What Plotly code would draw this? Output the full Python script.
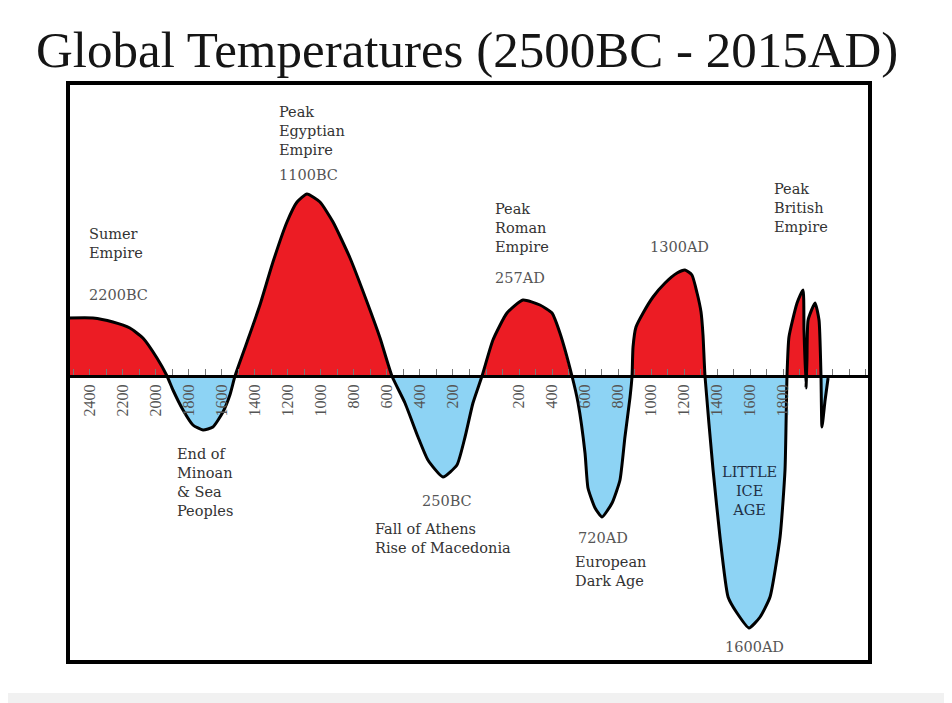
import numpy as np
import plotly.graph_objects as go

# curve: year (negative = BC) and relative temperature
years = [-2533, -2382, -2261, -2158, -2079, -1994, -1933,
         -1897, -1836, -1776, -1715, -1655, -1594, -1552, -1521,
         -1448, -1370, -1291, -1206, -1145, -1085, -1006, -927, -824, -721, -642, -570,
         -491, -412, -352, -261, -176, -127, -79, -24,
         42, 127, 224, 327, 400, 448, 521,
         558, 600, 618, 661, 703, 764, 812, 842, 873, 885,
         891, 909, 952, 1012, 1085, 1158, 1206, 1248, 1279, 1303, 1315, 1327,
         1376, 1418, 1467, 1521, 1594, 1661, 1721, 1782, 1812, 1824,
         1836, 1885, 1921, 1927, 1939, 1945, 1952, 1994, 2018, 2030, 2036, 2055, 2073]
temps = [0.58, 0.58, 0.54, 0.48, 0.38, 0.18, 0.0,
         -0.14, -0.34, -0.49, -0.54, -0.51, -0.36, -0.19, 0.0,
         0.34, 0.71, 1.14, 1.54, 1.74, 1.82, 1.74, 1.54, 1.18, 0.74, 0.38, 0.0,
         -0.27, -0.61, -0.84, -1.01, -0.89, -0.61, -0.27, 0.0,
         0.36, 0.63, 0.76, 0.71, 0.63, 0.43, 0.0,
         -0.27, -0.77, -1.12, -1.32, -1.41, -1.27, -1.04, -0.61, -0.21, 0.0,
         0.29, 0.49, 0.63, 0.79, 0.93, 1.03, 1.06, 1.01, 0.83, 0.64, 0.41, 0.0,
         -0.94, -1.61, -2.21, -2.37, -2.52, -2.41, -2.21, -1.61, -0.94, 0.0,
         0.39, 0.73, 0.86, 0.46, -0.12, 0.16, 0.56, 0.73, 0.56, 0.0, -0.51, -0.24, -0.02]

tick_vals = [-2400, -2200, -2000, -1800, -1600, -1400, -1200, -1000, -800, -600, -400, -200,
             200, 400, 600, 800, 1000, 1200, 1400, 1600, 1800]
tick_text = ["2400", "2200", "2000", "1800", "1600", "1400", "1200", "1000", "800", "600", "400", "200",
             "200", "400", "600", "800", "1000", "1200", "1400", "1600", "1800"]

# (text, year, temp, xanchor, kind)
labels = [
    ("Sumer<br>Empire", -2418, 1.33, "left", "event"),
    ("2200BC", -2418, 0.81, "left", "date"),
    ("Peak<br>Egyptian<br>Empire", -1267, 2.45, "left", "event"),
    ("1100BC", -1267, 2.01, "left", "date"),
    ("Peak<br>Roman<br>Empire", 42, 1.48, "left", "event"),
    ("257AD", 42, 0.98, "left", "date"),
    ("1300AD", 982, 1.29, "left", "date"),
    ("Peak<br>British<br>Empire", 1733, 1.68, "left", "event"),
    ("End of<br>Minoan<br>& Sea<br>Peoples", -1885, -1.065, "left", "event"),
    ("250BC", -400, -1.25, "left", "date"),
    ("Fall of Athens<br>Rise of Macedonia", -685, -1.62, "left", "event"),
    ("720AD", 545, -1.62, "left", "date"),
    ("European<br>Dark Age", 527, -1.955, "left", "event"),
    ("1600AD", 1630, -2.71, "center", "date"),
]

RED = "#ec1c24"
BLUE = "#8dd3f4"
x_range = [-2533, 2327]
y_range = [-2.86, 2.93]
SMOOTH = 0.5

t = np.array(temps)
fig = go.Figure()
fig.add_trace(go.Scatter(x=years, y=np.maximum(t, 0), mode="lines", fill="tozeroy",
                         fillcolor=RED, line=dict(width=0, shape="spline", smoothing=SMOOTH),
                         hoverinfo="skip", showlegend=False))
fig.add_trace(go.Scatter(x=years, y=np.minimum(t, 0), mode="lines", fill="tozeroy",
                         fillcolor=BLUE, line=dict(width=0, shape="spline", smoothing=SMOOTH),
                         hoverinfo="skip", showlegend=False))
fig.add_trace(go.Scatter(x=years, y=temps, mode="lines", name="Temperature",
                         line=dict(color="black", width=3, shape="spline", smoothing=SMOOTH),
                         showlegend=False))

for text, xv, yv, anchor, kind in labels:
    if kind == "event":
        font = dict(family="DejaVu Serif", size=14.5, color="#333333")
    else:
        font = dict(family="DejaVu Serif", size=14.5, color="#555555")
    fig.add_annotation(x=xv, y=yv, text=text, showarrow=False, xanchor=anchor,
                       yanchor="middle", align="left", font=font)

fig.add_annotation(x=1594, y=-1.15, text="LITTLE<br>ICE<br>AGE", showarrow=False,
                   xanchor="center", yanchor="middle", align="center",
                   font=dict(family="DejaVu Serif", size=14.5, color="#1f2f45"))

fig.add_annotation(xref="paper", yref="paper", x=0.4975, y=1.057,
                   text="Global Temperatures (2500BC - 2015AD)",
                   showarrow=False, yanchor="middle",
                   font=dict(family="Liberation Serif", size=51, color="#151515"))

# white card and frame
fig.add_shape(type="rect", xref="paper", yref="paper", x0=-0.081, x1=1.097, y0=-0.0535, y1=1.138,
              fillcolor="white", line=dict(width=0), layer="below")
fig.add_shape(type="rect", xref="paper", yref="paper", x0=0, x1=1, y0=0, y1=1,
              line=dict(color="black", width=4), layer="above")

zero_pos = -y_range[0] / (y_range[1] - y_range[0])

# the page adds an 8px body margin, so the margins are shifted to compensate
fig.update_layout(
    width=952, height=703,
    margin=dict(l=60, r=90, t=75, b=49),
    paper_bgcolor="#f1f1f1",
    plot_bgcolor="rgba(0,0,0,0)",
    xaxis=dict(range=x_range, anchor="free", position=zero_pos, showgrid=False,
               zeroline=False, showline=True, linecolor="black", linewidth=3,
               tickmode="array", tickvals=tick_vals, ticktext=tick_text, tickangle=-90,
               ticks="inside", ticklen=6, tickcolor="#777777", tickwidth=1,
               minor=dict(tickmode="linear", tick0=0, dtick=100, ticks="inside",
                          ticklen=6, tickcolor="#777777", tickwidth=1),
               tickfont=dict(family="Liberation Serif", size=16, color="#555555")),
    yaxis=dict(range=y_range, visible=False, showgrid=False, zeroline=False),
)

fig.write_html("out.html")
